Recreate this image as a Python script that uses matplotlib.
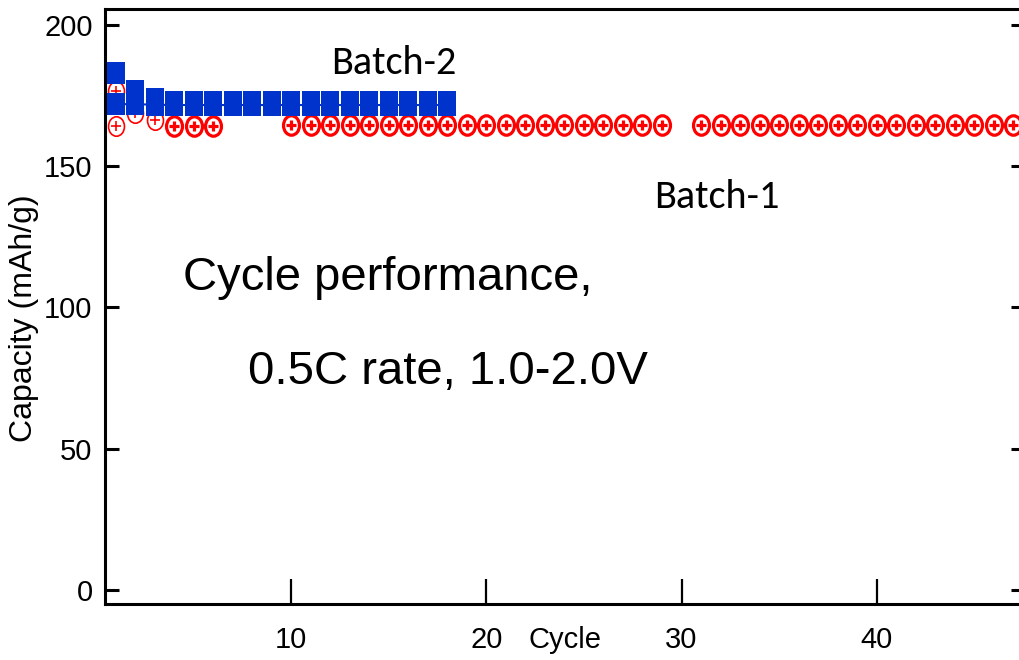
import matplotlib
matplotlib.use("Agg")
from matplotlib import pyplot as plt
from matplotlib import font_manager
from matplotlib.path import Path
from matplotlib.transforms import Affine2D

# Batch-1 (red circled plus), main series
b1_cycles = [4, 5, 6, 10, 11, 12, 13, 14, 15, 16, 17, 18, 19, 20, 21, 22, 23, 24, 25, 26, 27,
             28, 29, 31, 32, 33, 34, 35, 36, 37, 38, 39, 40, 41, 42, 43, 44, 45, 46, 47]
b1_capacity = [164.3] * 3 + [164.5] * 20 + [164.5] * 17
# Batch-1 first cycles (thin outline)
b1_first_cycles = [1, 1, 2, 3]
b1_first_capacity = [176.7, 164.3, 168.8, 166.3]

# Batch-2 (blue squares)
b2_cycles = list(range(1, 19))
b2_capacity = [172.0, 172.0, 171.8, 171.7, 171.7, 171.7, 171.7, 171.7, 171.7,
               171.7, 171.7, 171.7, 171.7, 171.7, 171.7, 171.7, 171.7, 171.7]
b2_upper = [183.0, 176.5, 173.8, 172.8, 172.8, 172.8, 172.8, 172.8, 172.8,
            172.8, 172.8, 172.8, 172.8, 172.8, 172.8, 172.8, 172.8, 172.8]

x_ticks = [10, 20, 30, 40]
y_ticks = [0, 50, 100, 150, 200]

RED = "#ff0000"
BLUE = "#0033cc"

names = {f.name for f in font_manager.fontManager.ttflist}
if "Liberation Sans Narrow" in names:
    narrow, tick_size = "Liberation Sans Narrow", 25
else:
    narrow, tick_size = "Liberation Sans", 21
calib = "Carlito" if "Carlito" in names else "Lato"

ellipse = Path.unit_circle().transformed(Affine2D().scale(0.82, 1.0))
rect = Path.unit_rectangle().transformed(Affine2D().translate(-0.5, -0.5).scale(17 / 21, 1.0))

fig = plt.figure(figsize=(10.19, 6.6), dpi=100)
ax = fig.add_axes([105 / 1019, 56 / 660, 920 / 1019, 595 / 660])

# red circled-plus markers
ax.plot(b1_cycles, b1_capacity, linestyle="none", marker=ellipse, markersize=14,
        markerfacecolor="white", markeredgecolor=RED, markeredgewidth=2.3, zorder=3)
ax.plot(b1_cycles, b1_capacity, linestyle="none", marker="+", markersize=7.5,
        markeredgecolor=RED, markeredgewidth=2.3, zorder=3)
ax.plot(b1_first_cycles, b1_first_capacity, linestyle="none", marker=ellipse, markersize=14,
        markerfacecolor="white", markeredgecolor=RED, markeredgewidth=1.2, zorder=3)
ax.plot(b1_first_cycles, b1_first_capacity, linestyle="none", marker="+", markersize=7.5,
        markeredgecolor=RED, markeredgewidth=1.2, zorder=3)

# blue squares
ax.plot(b2_cycles, b2_upper, linestyle="none", marker=rect, markersize=15.5,
        color=BLUE, markeredgewidth=0, zorder=4)
ax.plot(b2_cycles, b2_capacity, linestyle="-", linewidth=1.5, marker=rect, markersize=15.5,
        color=BLUE, markeredgewidth=0, zorder=4)

ax.set_xlim(0.46, 47.6)
ax.set_ylim(-5.0, 205.7)
ax.set_xticks(x_ticks)
ax.set_yticks(y_ticks)
ax.tick_params(axis="x", direction="in", length=18, width=1.6, pad=16,
               labelsize=tick_size, top=False)
ax.tick_params(axis="y", direction="in", length=10, width=2.2, pad=9,
               labelsize=tick_size, right=True)
for lab in ax.get_xticklabels() + ax.get_yticklabels():
    lab.set_fontfamily(narrow)
for sp in ax.spines.values():
    sp.set_linewidth(2.2)

ax.set_ylabel("Capacity (mAh/g)", fontsize=23, family="Liberation Sans", labelpad=0)
ax.yaxis.set_label_coords(-0.072, 0.48)
fig.text(565 / 1019, 1 - 640 / 660, "Cycle", ha="center", va="center",
         fontsize=tick_size, family=narrow)

fig.text(394 / 1019, 1 - 63 / 660, "Batch-2", ha="center", va="center", fontsize=29, family=calib)
fig.text(717 / 1019, 1 - 197 / 660, "Batch-1", ha="center", va="center", fontsize=29, family=calib)
fig.text(388 / 1019, 1 - 278 / 660, "Cycle performance,", ha="center", va="center",
         fontsize=34, family="Liberation Sans")
fig.text(448 / 1019, 1 - 372 / 660, "0.5C rate, 1.0-2.0V", ha="center", va="center",
         fontsize=34, family="Liberation Sans")

fig.savefig("out.png", dpi=100)
